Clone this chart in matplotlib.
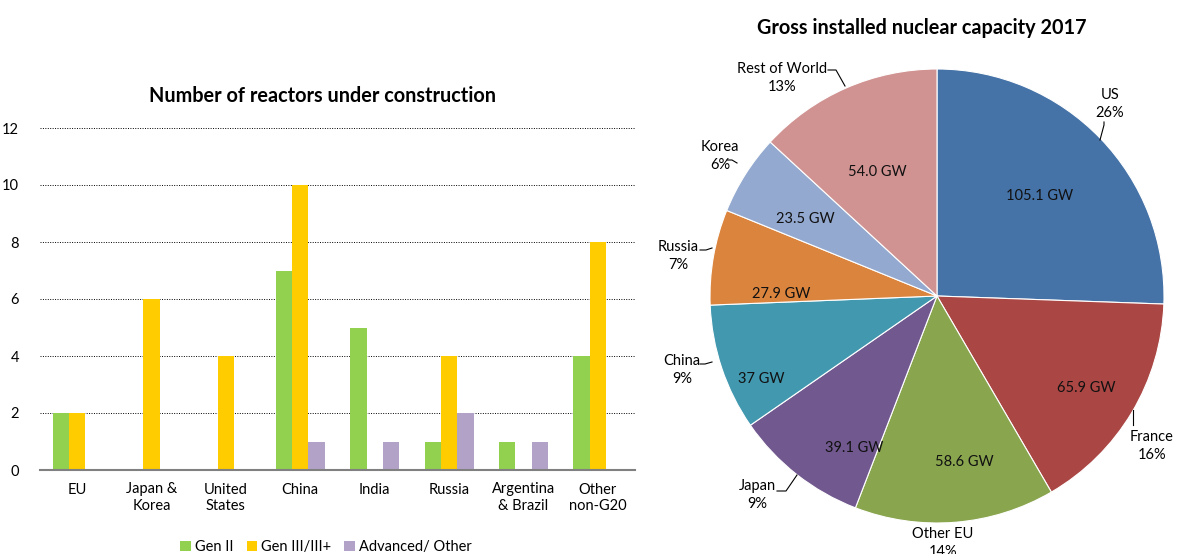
import matplotlib
matplotlib.use("Agg")
import matplotlib.pyplot as plt
import numpy as np

plt.rcParams['font.family'] = ['Lato', 'DejaVu Sans']

# ---- data: bar chart ----
categories = ["EU", "Japan &\nKorea", "United\nStates", "China", "India", "Russia", "Argentina\n& Brazil", "Other\nnon-G20"]
gen2 = [2, 0, 0, 7, 5, 1, 1, 4]
gen3 = [2, 6, 4, 10, 0, 4, 0, 8]
advanced = [0, 0, 0, 1, 1, 2, 1, 0]
series_names = ["Gen II", "Gen III/III+", "Advanced/ Other"]
yticks = [0, 2, 4, 6, 8, 10, 12]

# ---- data: pie chart ----
pie_labels = ["US", "France", "Other EU", "Japan", "China", "Russia", "Korea", "Rest of World"]
pie_values = [105.1, 65.9, 58.6, 39.1, 37.0, 27.9, 23.5, 54.0]
pie_value_text = ["105.1 GW", "65.9 GW", "58.6 GW", "39.1 GW", "37 GW", "27.9 GW", "23.5 GW", "54.0 GW"]
pie_pct_text = ["26%", "16%", "14%", "9%", "9%", "7%", "6%", "13%"]

W, H = 1178, 554
fig = plt.figure(figsize=(W / 100, H / 100), dpi=100)

def px_axes(l, t, r, b):
    return fig.add_axes([l / W, 1 - b / H, (r - l) / W, (b - t) / H])

# ---------------- bar chart ----------------
ax = px_axes(40, 128, 635, 470)
x = np.arange(len(categories))
bw = 0.22
cols = ["#92D050", "#FFCC00", "#B3A2C7"]
ax.bar(x - bw, gen2, bw, color=cols[0], label=series_names[0], zorder=3)
ax.bar(x, gen3, bw, color=cols[1], label=series_names[1], zorder=3)
ax.bar(x + bw, advanced, bw, color=cols[2], label=series_names[2], zorder=3)
ax.set_xlim(-0.5, len(categories) - 0.5)
ax.set_ylim(0, 12)
ax.set_yticks(yticks)
ax.set_yticklabels([str(v) for v in yticks], fontsize=10.5)
ax.set_xticks(x)
ax.set_xticklabels(categories, fontsize=10.5, linespacing=1.25)
ax.tick_params(axis='both', length=0)
ax.tick_params(axis='y', pad=15)
ax.tick_params(axis='x', pad=9)
for s in ["top", "right", "left"]:
    ax.spines[s].set_visible(False)
ax.spines["bottom"].set_color("#808080")
ax.spines["bottom"].set_linewidth(1.5)
ax.spines["bottom"].set_zorder(4)
for v in yticks[1:]:
    ax.axhline(v, color="black", linestyle=(0, (1, 1.5)), linewidth=0.7, zorder=1)
fig.text(322 / W, 1 - 96 / H, "Number of reactors under construction", ha="center", va="center",
         fontsize=14.3, fontweight="bold")
leg = fig.legend(loc="center", bbox_to_anchor=(326 / W, 1 - 547 / H), ncol=3, frameon=False,
                 fontsize=10.5, handlelength=0.7, handleheight=0.7, handletextpad=0.3, columnspacing=0.9)

# ---------------- pie chart ----------------
cx, cy, R = 937, 296, 227
pax = px_axes(cx - R, cy - R, cx + R, cy + R)
pie_cols = ["#4572A7", "#AA4643", "#89A54E", "#71588F", "#4198AF", "#DB843D", "#93A9CF", "#D19392"]
wedges, _ = pax.pie(pie_values, colors=pie_cols, startangle=90, counterclock=False, radius=1,
                    wedgeprops=dict(edgecolor="white", linewidth=0.8))
pax.set_xlim(-1, 1)
pax.set_ylim(-1, 1)
pax.set_aspect("equal")
pax.axis("off")

def to_ax(px, py):
    return ((px - cx) / R, (cy - py) / R)

# inner value labels (pixel positions)
inner_pos = [(1040, 196), (1086, 388), (964, 462), (854, 448), (761, 379), (781, 294), (805, 219), (877, 172)]
for t, p in zip(pie_value_text, inner_pos):
    pax.text(*to_ax(*p), t, ha="center", va="center", fontsize=10.5, color="#111111")

outer_pos = [(1110, 104), (1152, 446), (943, 543), (757, 495), (682, 370), (678, 256), (720, 156), (782, 78)]
leaders = [[(1104, 122), (1104, 125), (1100, 140)],
           [(1133, 425), (1133, 410)],
           None,
           [(777, 491), (786, 491), (797, 475)],
           [(700, 364), (705, 364), (712, 362)],
           [(700, 250), (706, 250), (712, 248)],
           [(727, 160), (732, 160), (737, 163)],
           [(828, 70), (836, 70), (845, 86)]]
for lab, pc, p, ld in zip(pie_labels, pie_pct_text, outer_pos, leaders):
    pax.text(*to_ax(*p), lab + "\n" + pc, ha="center", va="center", fontsize=10.5,
             linespacing=1.35, clip_on=False)
    if ld:
        xs, ys = zip(*[to_ax(*q) for q in ld])
        pax.plot(xs, ys, color="black", linewidth=0.8, clip_on=False)

fig.text(922 / W, 1 - 28 / H, "Gross installed nuclear capacity 2017", ha="center", va="center",
         fontsize=14.3, fontweight="bold")

fig.savefig("out.png", dpi=100)
